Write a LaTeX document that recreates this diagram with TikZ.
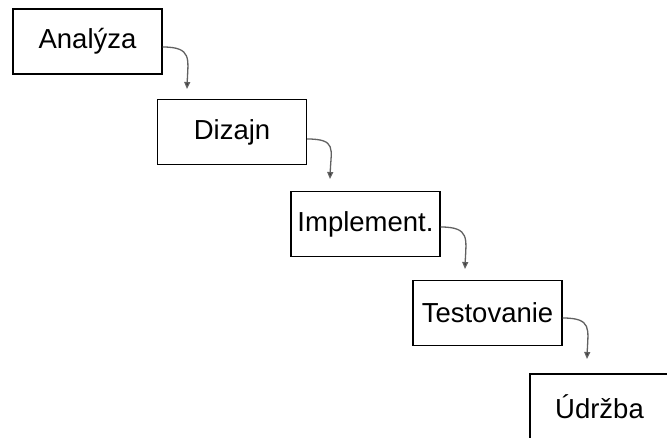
\documentclass[tikz,border=0pt]{standalone}
\usepackage{fontspec}
\setmainfont{Liberation Sans}
\usetikzlibrary{arrows.meta}
\tikzset{
  phase/.style={draw=black, line width=1.1pt, fill=white, minimum width=149pt, minimum height=65pt, inner sep=0pt, font=\fontsize{27.5}{30}\selectfont},
  flow/.style={draw=black!62, line width=1.3pt, -{Triangle[length=7pt,width=6pt,fill=black!80]}}
}
\begin{document}
\begin{tikzpicture}[x=1pt,y=-1pt]
\clip (0,0) rectangle (667,438);
\fill[white] (0,0) rectangle (667,438);
\node[phase] (a) at (87.5,41.5) {Analýza};
\node[phase] (b) at (232,132) {Dizajn};
\node[phase] (c) at (365.5,224) {Implement.};
\node[phase] (d) at (487.5,313) {Testovanie};
\node[phase] (e) at (604.5,406.5) {\hspace*{-10pt}Údržba};
\coordinate (t1) at (187,89);
\coordinate (t2) at (330,179);
\coordinate (t3) at (465,269);
\coordinate (t4) at (587,359);
\draw[flow] ([yshift=-5.5pt]a.east) .. controls +(30,0) and +(1,-30) .. (t1);
\draw[flow] ([yshift=-7pt]b.east) .. controls +(30,0) and +(1,-30) .. (t2);
\draw[flow] ([yshift=-3pt]c.east) .. controls +(30,0) and +(1,-30) .. (t3);
\draw[flow] ([yshift=-5pt]d.east) .. controls +(30,0) and +(1,-30) .. (t4);
\end{tikzpicture}
\end{document}
